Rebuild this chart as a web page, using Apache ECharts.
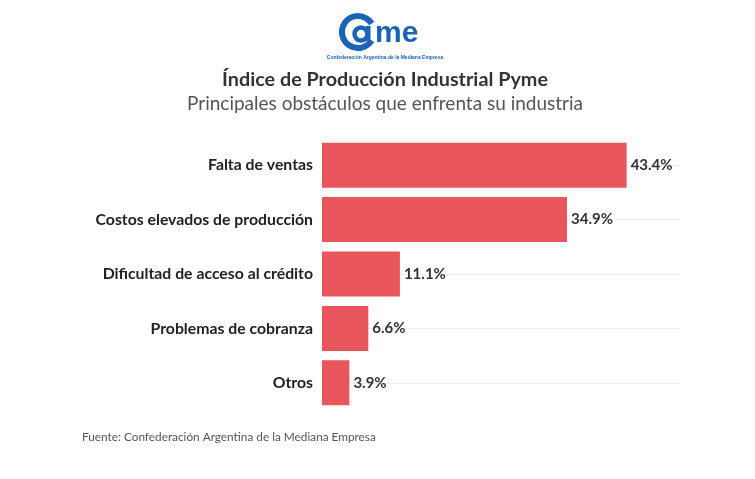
<!DOCTYPE html>
<html><head><meta charset="utf-8">
<script src="https://cdn.jsdelivr.net/npm/echarts@6/dist/echarts.min.js"></script>
<style>html,body{margin:0;padding:0;background:#fff}#c{width:755px;height:479px}</style>
</head><body><div id="c"></div>
<script>
const categories = ["Falta de ventas","Costos elevados de producción","Dificultad de acceso al crédito","Problemas de cobranza","Otros"];
const values = [43.4, 34.9, 11.1, 6.6, 3.9];
const titleText = "Índice de Producción Industrial Pyme";
const subtitleText = "Principales obstáculos que enfrenta su industria";
const sourceText = "Fuente: Confederación Argentina de la Mediana Empresa";
const logoCaption = "Confederación Argentina de la Mediana Empresa";

const FONT = "'Source Sans Pro', Lato, 'Noto Sans', sans-serif";
const blue = "#1a63b5";
const chart = echarts.init(document.getElementById('c'), null, {renderer:'canvas'});
chart.setOption({
  backgroundColor:'#fff',
  animation:false,
  title:[
    {text:sourceText, left:82, top:431, padding:0, textStyle:{fontFamily:FONT, fontSize:11.8, fontWeight:'normal', color:'#555'}}
  ],
  grid:{left:322, right:75, top:138, bottom:69, containLabel:false},
  xAxis:{type:'value', min:0, max:51, show:false},
  yAxis:{type:'category', inverse:true, data:categories,
    axisLine:{show:false},
    axisTick:{show:true, alignWithLabel:true, inside:true, length:358, lineStyle:{color:'#eeeeee'}},
    axisLabel:{margin:9, fontFamily:FONT, fontSize:15.8, fontWeight:'bold', color:'#222'},
    splitLine:{show:false}
  },
  series:[{type:'bar', data:values, barWidth:45, itemStyle:{color:'#e8565b'},
    label:{show:true, position:'right', distance:4, formatter:p=>p.value.toFixed(1)+'%', fontFamily:FONT, fontSize:15, fontWeight:'bold', color:'#333'}
  }],
  graphic:[
    {type:'text', x:385, y:80, style:{text:titleText, textAlign:'center', textVerticalAlign:'middle', fontFamily:FONT, fontSize:19.8, fontWeight:'bold', fill:'#333'}},
    {type:'text', x:385, y:104, style:{text:subtitleText, textAlign:'center', textVerticalAlign:'middle', fontFamily:FONT, fontSize:19, fontWeight:'normal', fill:'#555'}},
    {type:'arc', shape:{cx:358, cy:32, r:16, startAngle:0.55, endAngle:2*Math.PI-0.55, clockwise:true}, style:{stroke:blue, lineWidth:6, fill:null}},
    {type:'circle', shape:{cx:361, cy:34, r:6.5}, style:{stroke:blue, lineWidth:4.5, fill:null}},
    {type:'rect', shape:{x:366, y:26, width:4.5, height:15}, style:{fill:blue}},
    {type:'text', left:375, top:19, style:{text:'me', fontFamily:"Arial, 'Liberation Sans', sans-serif", fontSize:30, fontWeight:'bold', fill:blue}},
    {type:'text', x:385, y:58, style:{text:logoCaption, textAlign:'center', textVerticalAlign:'middle', fontFamily:"Arial, 'Liberation Sans', sans-serif", fontSize:5, fontWeight:'bold', fill:blue}}
  ]
});
</script></body></html>
